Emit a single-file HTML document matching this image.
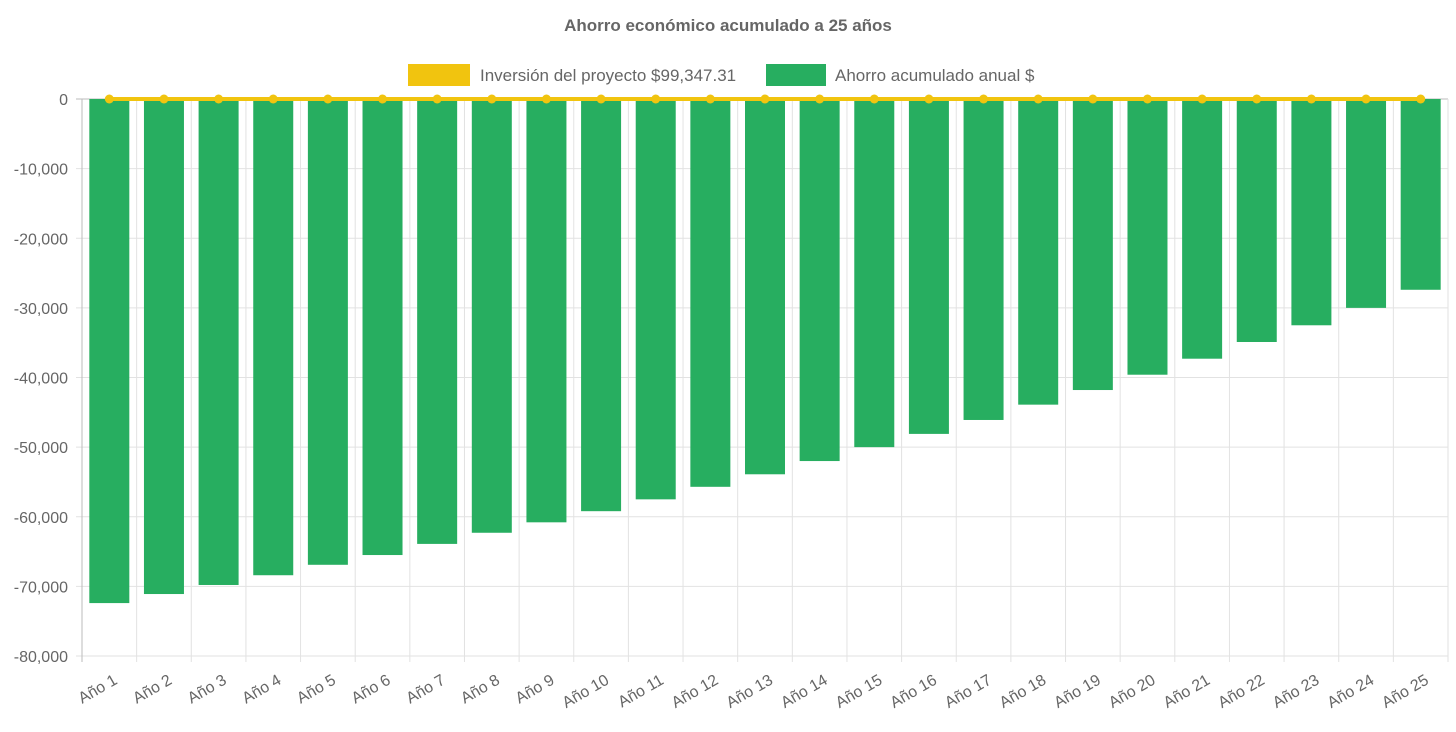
<!DOCTYPE html>
<html><head><meta charset="utf-8"><style>
body{margin:0;background:#fff;font-family:"Liberation Sans",sans-serif}
svg text{font-family:"Liberation Sans",sans-serif;fill:#666}
</style></head><body>
<svg id="c" width="1456" height="727"></svg>
<script>
const categories=[];for(let i=1;i<=25;i++)categories.push("Año "+i);
const savings=[-72400,-71100,-69800,-68400,-66900,-65500,-63900,-62300,-60800,-59200,-57500,-55700,-53900,-52000,-50000,-48100,-46100,-43900,-41800,-39600,-37300,-34900,-32500,-30000,-27400];
const investment=[0,0,0,0,0,0,0,0,0,0,0,0,0,0,0,0,0,0,0,0,0,0,0,0,0];
const yTicks=[0,-10000,-20000,-30000,-40000,-50000,-60000,-70000,-80000];
const NS="http://www.w3.org/2000/svg",svg=document.getElementById('c');
const L=82,R=1448,T=99,B=656;
const y=v=>T+(0-v)/80000*(B-T);
const cw=(R-L)/categories.length;
const xc=i=>L+cw*(i+0.5);
function el(t,a,p){const e=document.createElementNS(NS,t);for(const k in a)e.setAttribute(k,a[k]);(p||svg).appendChild(e);return e;}
let t=el('text',{x:728,y:31,'text-anchor':'middle','font-size':17,'font-weight':'bold'});t.textContent="Ahorro económico acumulado a 25 años";


yTicks.forEach(v=>{const l=el('line',{x1:L-6,x2:R,y1:y(v),y2:y(v),stroke:v===0?'#bbb':'#e2e2e2'});


const tx=el('text',{x:L-14,y:y(v)+6,'text-anchor':'end','font-size':16});tx.textContent=v.toLocaleString('en-US');

});
for(let i=0;i<=categories.length;i++){const l=el('line',{x1:L+cw*i,x2:L+cw*i,y1:T,y2:B+6,stroke:i===0?'#bbb':'#e2e2e2'});

}
categories.forEach((c,i)=>{
const b=el('rect',{x:xc(i)-20,y:y(0),width:40,height:y(savings[i])-y(0),fill:'#27ae60'});


const tx=el('text',{x:0,y:0,'text-anchor':'end','font-size':16,transform:`translate(${xc(i)+9},${B+27}) rotate(-30)`});tx.textContent=c;


});
const pl=el('polyline',{points:investment.map((v,i)=>xc(i)+','+y(v)).join(' '),fill:'none',stroke:'#f1c40f','stroke-width':4});


investment.forEach((v,i)=>{const p=el('circle',{cx:xc(i),cy:y(v),r:4.5,fill:'#f1c40f'});

});
const g=el('g',{});
const r1=el('rect',{x:408,y:64,width:62,height:22,fill:'#f1c40f'},g);


let lt=el('text',{x:480,y:81,'font-size':17},g);lt.textContent="Inversión del proyecto $99,347.31";


const r2=el('rect',{x:766,y:64,width:60,height:22,fill:'#27ae60'},g);


lt=el('text',{x:835,y:81,'font-size':17},g);lt.textContent="Ahorro acumulado anual $";


</script>
</body></html>
